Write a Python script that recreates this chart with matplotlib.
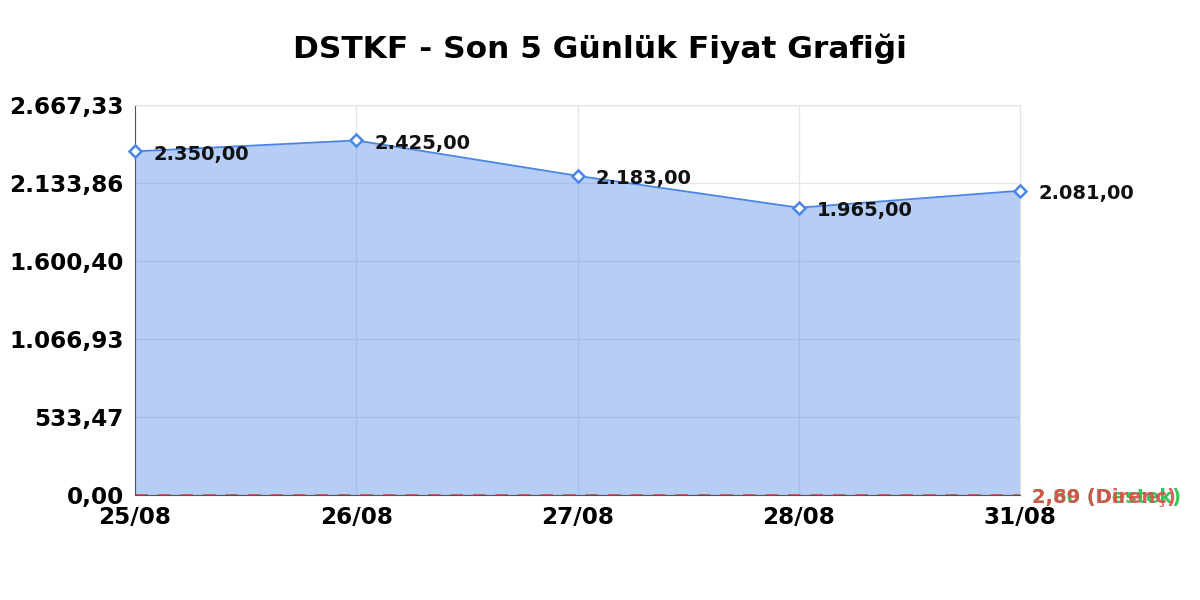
import numpy as np
from matplotlib import pyplot as plt
from matplotlib.ticker import FixedLocator

dates = ["25/08", "26/08", "27/08", "28/08", "31/08"]
prices = [2350.00, 2425.00, 2183.00, 1965.00, 2081.00]
resistance = 2.89
support = 2.60
y_ticks = [0.00, 533.47, 1066.93, 1600.40, 2133.86, 2667.33]


def tr_fmt(v):
    # Turkish number format: 1.234,56
    s = f"{v:,.2f}"
    return s.replace(",", "X").replace(".", ",").replace("X", ".")


fig = plt.figure(figsize=(12, 6), dpi=100)
ax = fig.add_axes([0.1125, 0.175, 0.7375, 0.65])

x = np.arange(len(dates))
ax.grid(True, color="#e6e6e6", lw=1)
ax.fill_between(x, prices, 0, color="#4a86e8", alpha=0.4, lw=0, zorder=2)
ax.plot(x, prices, color="#4a86e8", lw=1.3, zorder=3)
ax.plot(x, prices, ls="none", marker="D", ms=6.5, mfc="white",
        mec="#4a86e8", mew=1.8, zorder=4, clip_on=False)

ax.axhline(support, color="#34c759", ls=(0, (5, 4)), lw=1.8, zorder=2.5)
ax.axhline(resistance, color="#e04a4a", ls=(0, (5, 4)), lw=1.8, zorder=2.6)

for xi, p in zip(x, prices):
    ax.annotate(tr_fmt(p), (xi, p), xytext=(13, -2), textcoords="offset points",
                ha="left", va="center", fontsize=14, fontweight="bold",
                color="#111111", zorder=5)

ax.annotate(tr_fmt(support) + " (Destek)", (1, support),
            xycoords=("axes fraction", "data"), xytext=(9, -2),
            textcoords="offset points", ha="left", va="center",
            fontsize=14, fontweight="bold", color="#34c759")
ax.annotate(tr_fmt(resistance) + " (Direnç)", (1, resistance),
            xycoords=("axes fraction", "data"), xytext=(9, -2),
            textcoords="offset points", ha="left", va="center",
            fontsize=14, fontweight="bold", color="#e04a4a", alpha=0.9)

ax.set_xlim(0, len(dates) - 1)
ax.set_ylim(0, y_ticks[-1])
ax.set_xticks(x)
ax.set_xticklabels(dates)
ax.yaxis.set_major_locator(FixedLocator(y_ticks))
ax.set_yticklabels([tr_fmt(v) for v in y_ticks])
ax.tick_params(length=0, labelsize=16.7, pad=8)
for lab in ax.get_xticklabels() + ax.get_yticklabels():
    lab.set_fontweight("bold")

for side in ["top", "right"]:
    ax.spines[side].set_color("#e3e3e3")
ax.spines["left"].set_color("#555555")
ax.spines["bottom"].set_color("#555555")

fig.suptitle("DSTKF - Son 5 Günlük Fiyat Grafiği", y=0.945, fontsize=22.5,
             fontweight="bold")

fig.savefig("out.png")
